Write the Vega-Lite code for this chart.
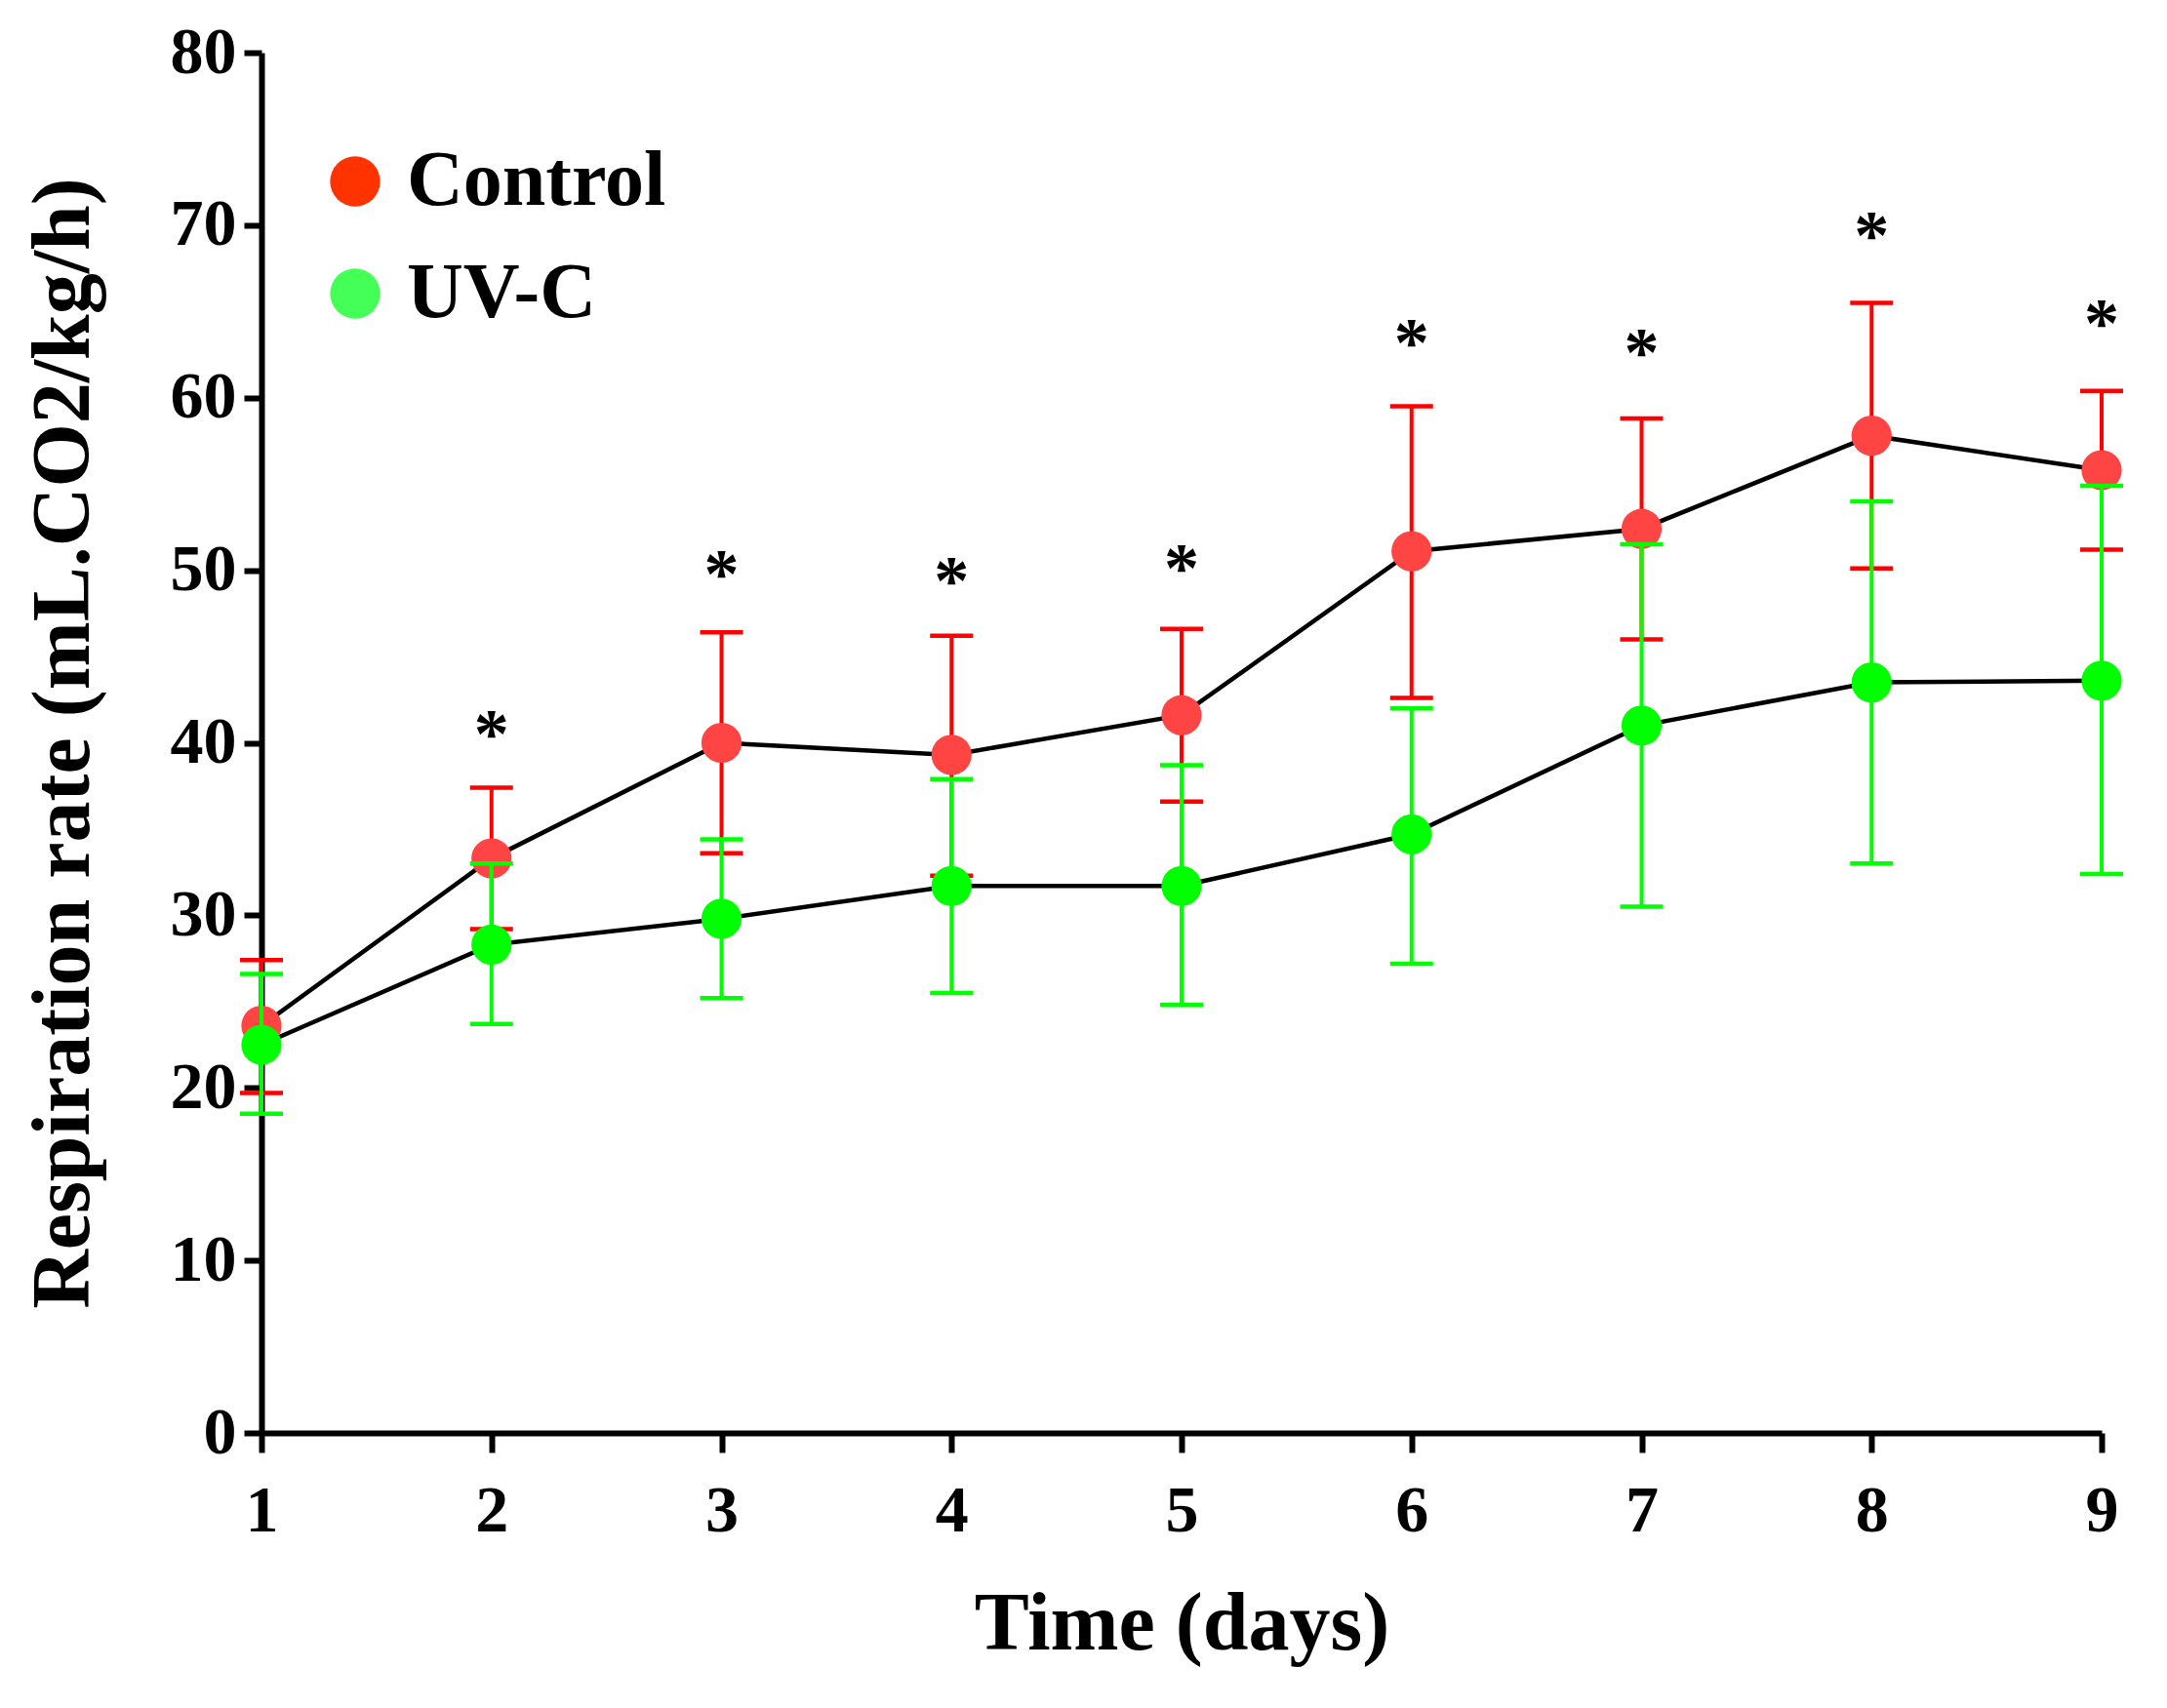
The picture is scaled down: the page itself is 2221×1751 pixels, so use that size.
{
  "$schema": "https://vega.github.io/schema/vega-lite/v6.json",
  "description": "Respiration rate of control vs UV-C treated samples over 9 days, mean with error bars.",
  "width": 1886,
  "height": 1415,
  "autosize": {"type": "none"},
  "padding": {"left": 268, "top": 54, "right": 67, "bottom": 282},
  "background": "white",
  "config": {
    "view": {"stroke": null},
    "font": "Liberation Serif",
    "axis": {
      "domainColor": "black",
      "domainWidth": 6,
      "tickColor": "black",
      "tickWidth": 6,
      "grid": false,
      "labelFont": "Liberation Serif",
      "labelFontWeight": "bold",
      "labelFontSize": 68,
      "labelColor": "black",
      "titleFont": "Liberation Serif",
      "titleFontWeight": "bold",
      "titleFontSize": 84,
      "titleColor": "black"
    }
  },
  "datasets": {
    "resp": [
      {"day": 1, "group": "Control", "mean": 23.6, "lo": 19.7, "hi": 27.4},
      {"day": 2, "group": "Control", "mean": 33.3, "lo": 29.2, "hi": 37.4},
      {"day": 3, "group": "Control", "mean": 40.0, "lo": 33.6, "hi": 46.4},
      {"day": 4, "group": "Control", "mean": 39.3, "lo": 32.3, "hi": 46.2},
      {"day": 5, "group": "Control", "mean": 41.6, "lo": 36.6, "hi": 46.6},
      {"day": 6, "group": "Control", "mean": 51.1, "lo": 42.6, "hi": 59.5},
      {"day": 7, "group": "Control", "mean": 52.4, "lo": 46.0, "hi": 58.8},
      {"day": 8, "group": "Control", "mean": 57.8, "lo": 50.1, "hi": 65.5},
      {"day": 9, "group": "Control", "mean": 55.8, "lo": 51.2, "hi": 60.4},
      {"day": 1, "group": "UV-C", "mean": 22.5, "lo": 18.5, "hi": 26.6},
      {"day": 2, "group": "UV-C", "mean": 28.3, "lo": 23.7, "hi": 33.0},
      {"day": 3, "group": "UV-C", "mean": 29.8, "lo": 25.2, "hi": 34.4},
      {"day": 4, "group": "UV-C", "mean": 31.7, "lo": 25.5, "hi": 37.9},
      {"day": 5, "group": "UV-C", "mean": 31.7, "lo": 24.8, "hi": 38.7},
      {"day": 6, "group": "UV-C", "mean": 34.7, "lo": 27.2, "hi": 42.0},
      {"day": 7, "group": "UV-C", "mean": 41.0, "lo": 30.5, "hi": 51.5},
      {"day": 8, "group": "UV-C", "mean": 43.5, "lo": 33.0, "hi": 54.0},
      {"day": 9, "group": "UV-C", "mean": 43.6, "lo": 32.4, "hi": 54.9}
    ],
    "signif": [
      {"day": 2, "y": 41.2, "mark": "*"},
      {"day": 3, "y": 50.5, "mark": "*"},
      {"day": 4, "y": 50.1, "mark": "*"},
      {"day": 5, "y": 50.8, "mark": "*"},
      {"day": 6, "y": 63.9, "mark": "*"},
      {"day": 7, "y": 63.3, "mark": "*"},
      {"day": 8, "y": 70.1, "mark": "*"},
      {"day": 9, "y": 65.0, "mark": "*"}
    ]
  },
  "data": {"name": "resp"},
  "encoding": {
    "x": {
      "field": "day",
      "type": "quantitative",
      "scale": {"domain": [1, 9], "nice": false, "zero": false},
      "axis": {
        "title": "Time (days)",
        "values": [1, 2, 3, 4, 5, 6, 7, 8, 9],
        "format": "d",
        "tickSize": 20,
        "labelPadding": 26,
        "titlePadding": 41,
        "labelFlush": false
      }
    }
  },
  "layer": [
    {
      "mark": {"type": "line", "color": "black", "strokeWidth": 4.5},
      "encoding": {
        "y": {
          "field": "mean",
          "type": "quantitative",
          "scale": {"domain": [0, 80], "nice": false},
          "axis": {
            "title": "Respiration rate  (mL.CO2/kg/h)",
            "values": [0, 10, 20, 30, 40, 50, 60, 70, 80],
            "tickSize": 18,
            "labelPadding": 8,
            "titlePadding": 66,
            "labelFlush": false
          }
        },
        "detail": {"field": "group"}
      }
    },
    {
      "mark": {"type": "point", "shape": "circle", "filled": true, "size": 0, "opacity": 1, "strokeWidth": 0},
      "encoding": {
        "y": {"field": "mean", "type": "quantitative"},
        "fill": {
          "field": "group",
          "type": "nominal",
          "scale": {"domain": ["Control", "UV-C"], "range": ["#FF3300", "#44FF55"]},
          "legend": {
            "title": null,
            "orient": "none",
            "legendX": 56,
            "legendY": 92,
            "symbolType": "circle",
            "symbolSize": 2640,
            "symbolStrokeWidth": 0,
            "symbolOpacity": 1,
            "labelFont": "Liberation Serif",
            "labelFontWeight": "bold",
            "labelFontSize": 80,
            "labelColor": "black",
            "labelOffset": 13,
            "rowPadding": 35,
            "padding": 0,
            "labelLimit": 0
          }
        }
      }
    },
    {
      "transform": [{"filter": "datum.group === 'Control'"}],
      "layer": [
        {
          "mark": {"type": "rule", "color": "#FF0000", "strokeWidth": 4},
          "encoding": {"y": {"field": "lo", "type": "quantitative"}, "y2": {"field": "hi"}}
        },
        {
          "mark": {"type": "tick", "orient": "horizontal", "color": "#FF0000", "size": 44, "thickness": 4.5, "opacity": 1},
          "encoding": {"y": {"field": "lo", "type": "quantitative"}}
        },
        {
          "mark": {"type": "tick", "orient": "horizontal", "color": "#FF0000", "size": 44, "thickness": 4.5, "opacity": 1},
          "encoding": {"y": {"field": "hi", "type": "quantitative"}}
        },
        {
          "mark": {"type": "point", "shape": "circle", "filled": true, "color": "#FF4444", "size": 1700, "opacity": 1, "strokeWidth": 0},
          "encoding": {"y": {"field": "mean", "type": "quantitative"}}
        }
      ]
    },
    {
      "transform": [{"filter": "datum.group === 'UV-C'"}],
      "layer": [
        {
          "mark": {"type": "rule", "color": "#00FF00", "strokeWidth": 4},
          "encoding": {"y": {"field": "lo", "type": "quantitative"}, "y2": {"field": "hi"}}
        },
        {
          "mark": {"type": "tick", "orient": "horizontal", "color": "#00FF00", "size": 44, "thickness": 4.5, "opacity": 1},
          "encoding": {"y": {"field": "lo", "type": "quantitative"}}
        },
        {
          "mark": {"type": "tick", "orient": "horizontal", "color": "#00FF00", "size": 44, "thickness": 4.5, "opacity": 1},
          "encoding": {"y": {"field": "hi", "type": "quantitative"}}
        },
        {
          "mark": {"type": "point", "shape": "circle", "filled": true, "color": "#00FF00", "size": 1700, "opacity": 1, "strokeWidth": 0},
          "encoding": {"y": {"field": "mean", "type": "quantitative"}}
        }
      ]
    },
    {
      "data": {"name": "signif"},
      "mark": {"type": "text", "font": "Liberation Serif", "fontWeight": "bold", "fontSize": 72, "color": "black", "baseline": "alphabetic", "align": "center", "dy": 36},
      "encoding": {
        "y": {"field": "y", "type": "quantitative"},
        "text": {"field": "mark"}
      }
    }
  ]
}
